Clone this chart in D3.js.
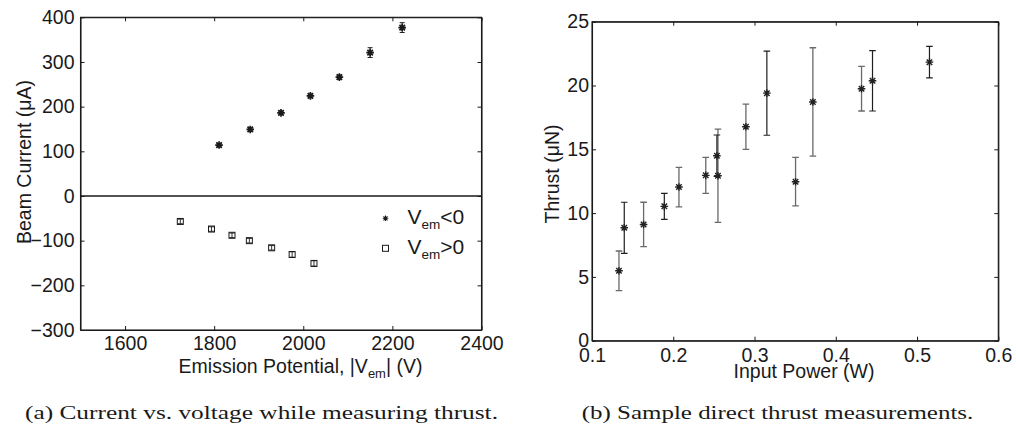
<!DOCTYPE html>
<html>
<head>
<meta charset="utf-8">
<script src="https://cdn.jsdelivr.net/npm/d3@7"></script>
<style>
  body { margin: 0; background: #fff; }
  svg text { font-family: "Liberation Sans", Arial, sans-serif; fill: #1a1a1a; }
  .axis path, .axis line { stroke: #1a1a1a; }
</style>
</head>
<body>
<svg id="fig" width="1016" height="424"></svg>
<script>
// (a) beam current vs |V_em|
var negV   = [1811, 1881, 1950, 2016, 2081, 2150, 2222];
var negI   = [114, 149, 186, 224, 266, 321, 377];
var negErr = [4, 4, 4, 4, 5, 11, 11];
var posV   = [1724, 1794, 1840, 1879, 1929, 1975, 2024];
var posI   = [-57, -74, -88, -100, -116, -131, -151];
var posErr = [5, 5, 5, 5, 5, 6, 6];
var xTicksA = [1600, 1800, 2000, 2200, 2400];
var yTicksA = [-300, -200, -100, 0, 100, 200, 300, 400];

// (b) thrust vs input power; two groups of bars (dark / grey)
var powerDark  = [0.1397, 0.189, 0.2537, 0.3152, 0.4452, 0.5153];
var thrustDark = [8.85, 10.53, 14.5, 19.4, 20.37, 21.83];
var errDark    = [2.0, 1.02, 1.62, 3.3, 2.37, 1.24];
var powerGrey  = [0.1332, 0.1635, 0.207, 0.240, 0.255, 0.2894, 0.3505, 0.3718, 0.4317];
var thrustGrey = [5.48, 9.11, 12.04, 12.96, 12.93, 16.77, 12.46, 18.71, 19.75];
var errGrey    = [1.55, 1.74, 1.55, 1.41, 3.65, 1.77, 1.9, 4.25, 1.75];
var xTicksB = [0.1, 0.2, 0.3, 0.4, 0.5, 0.6];
var yTicksB = [0, 5, 10, 15, 20, 25];

var svg = d3.select("#fig");
var fs = 19.5;
var sans = "'Liberation Sans', Arial, sans-serif";

// matlab style box: ticks inside on all four sides, labels bottom/left
function box(g, x, y, xt, yt, w, h, xpad, ypad, fmtX) {
  g.append("g").attr("class", "axis").attr("transform", "translate(0," + h + ")")
    .call(d3.axisBottom(x).tickValues(xt).tickSizeInner(-4).tickSizeOuter(0).tickPadding(xpad).tickFormat(fmtX));
  g.append("g").attr("class", "axis")
    .call(d3.axisTop(x).tickValues(xt).tickSizeInner(-4).tickSizeOuter(0).tickFormat(""));
  g.append("g").attr("class", "axis")
    .call(d3.axisLeft(y).tickValues(yt).tickSizeInner(-4).tickSizeOuter(0).tickPadding(ypad)
      .tickFormat(function (d) { return d < 0 ? "\u2212" + Math.abs(d) : d; }));
  g.append("g").attr("class", "axis").attr("transform", "translate(" + w + ",0)")
    .call(d3.axisRight(y).tickValues(yt).tickSizeInner(-4).tickSizeOuter(0).tickFormat(""));
  g.selectAll("g.axis").attr("font-size", fs).attr("font-family", sans);
  g.selectAll("g.axis text").attr("font-size", fs).style("font-size", fs + "px").attr("fill", "#1a1a1a");
  g.selectAll(".axis .domain").attr("stroke-width", 1.1);
  g.append("rect").attr("width", w).attr("height", h)
    .attr("fill", "none").attr("stroke", "#1a1a1a").attr("stroke-width", 1.1);
}

function star(r) {
  var k = r * 0.72;
  return "M" + -r + ",0L" + r + ",0M0," + -r + "L0," + r +
    "M" + -k + "," + -k + "L" + k + "," + k + "M" + -k + "," + k + "L" + k + "," + -k;
}

function errbars(g, xs, ys, es, x, y, cap, color, sw) {
  var d = d3.range(xs.length);
  var eb = g.append("g").attr("stroke", color).attr("stroke-width", sw).attr("fill", "none");
  eb.selectAll("path").data(d).join("path")
    .attr("d", function (i) {
      var cx = x(xs[i]), t = y(ys[i] + es[i]), b = y(ys[i] - es[i]);
      return "M" + cx + "," + t + "L" + cx + "," + b +
        "M" + (cx - cap) + "," + t + "L" + (cx + cap) + "," + t +
        "M" + (cx - cap) + "," + b + "L" + (cx + cap) + "," + b;
    });
}

// ---------- panel (a) ----------
var mA = { left: 80.5, top: 17.3 }, wA = 401, hA = 312.7;
var gA = svg.append("g").attr("transform", "translate(" + mA.left + "," + mA.top + ")");
var xA = d3.scaleLinear().domain([1500, 2400]).range([0, wA]);
var yA = d3.scaleLinear().domain([-300, 400]).range([hA, 0]);
box(gA, xA, yA, xTicksA, yTicksA, wA, hA, 6, 6, d3.format("d"));

gA.append("line").attr("x1", 0).attr("x2", wA).attr("y1", yA(0)).attr("y2", yA(0))
  .attr("stroke", "#1a1a1a").attr("stroke-width", 1.3);

errbars(gA, negV, negI, negErr, xA, yA, 2.5, "#222", 1);
errbars(gA, posV, posI, posErr, xA, yA, 2.5, "#333", 1);

gA.append("g").selectAll("path").data(d3.range(negV.length)).join("path")
  .attr("transform", function (i) { return "translate(" + xA(negV[i]) + "," + yA(negI[i]) + ")"; })
  .attr("d", star(3.8)).attr("stroke", "#1a1a1a").attr("stroke-width", 1.7).attr("fill", "none");
gA.append("g").selectAll("rect").data(d3.range(posV.length)).join("rect")
  .attr("x", function (i) { return xA(posV[i]) - 3; })
  .attr("y", function (i) { return yA(posI[i]) - 3; })
  .attr("width", 6).attr("height", 6)
  .attr("fill", "none").attr("stroke", "#1a1a1a").attr("stroke-width", 1);

// legend
var lg = gA.append("g").attr("transform", "translate(305,201)");
lg.append("path").attr("d", star(2.8)).attr("stroke", "#1a1a1a").attr("stroke-width", 1.1).attr("fill", "none");
lg.append("rect").attr("x", -3).attr("y", 27).attr("width", 6).attr("height", 6)
  .attr("fill", "none").attr("stroke", "#1a1a1a").attr("stroke-width", 1);
var lt1 = lg.append("text").attr("x", 22).attr("y", 6).style("font-size", "21px");
lt1.append("tspan").text("V");
lt1.append("tspan").attr("dy", 5).style("font-size", "13.5px").text("em");
lt1.append("tspan").attr("dy", -5).text("<0");
var lt2 = lg.append("text").attr("x", 22).attr("y", 36).style("font-size", "21px");
lt2.append("tspan").text("V");
lt2.append("tspan").attr("dy", 5).style("font-size", "13.5px").text("em");
lt2.append("tspan").attr("dy", -5).text(">0");

var xlA = svg.append("text").attr("x", 300.5).attr("y", 373).attr("text-anchor", "middle").style("font-size", fs + "px");
xlA.append("tspan").text("Emission Potential, |V");
xlA.append("tspan").attr("dy", 5).style("font-size", "13px").text("em");
xlA.append("tspan").attr("dy", -5).text("| (V)");
svg.append("text").attr("transform", "translate(31,162) rotate(-90)").attr("text-anchor", "middle")
  .style("font-size", fs + "px").text("Beam Current (\u03bcA)");

// ---------- panel (b) ----------
var mB = { left: 592, top: 21.7 }, wB = 406.3, hB = 319;
var gB = svg.append("g").attr("transform", "translate(" + mB.left + "," + mB.top + ")");
var xB = d3.scaleLinear().domain([0.1, 0.6]).range([0, wB]);
var yB = d3.scaleLinear().domain([0, 25]).range([hB, 0]);
box(gB, xB, yB, xTicksB, yTicksB, wB, hB, 7, 3, d3.format(".1f"));

errbars(gB, powerGrey, thrustGrey, errGrey, xB, yB, 3.3, "#6a6a6a", 1.3);
errbars(gB, powerDark, thrustDark, errDark, xB, yB, 3.3, "#1f1f1f", 1.2);

var allP = powerGrey.concat(powerDark), allT = thrustGrey.concat(thrustDark);
gB.append("g").selectAll("path").data(d3.range(allP.length)).join("path")
  .attr("transform", function (i) { return "translate(" + xB(allP[i]) + "," + yB(allT[i]) + ")"; })
  .attr("d", star(3.8)).attr("stroke", "#222").attr("stroke-width", 1.4).attr("fill", "none");

svg.append("text").attr("x", 804).attr("y", 378).attr("text-anchor", "middle")
  .style("font-size", fs + "px").text("Input Power (W)");
svg.append("text").attr("transform", "translate(559,174) rotate(-90)").attr("text-anchor", "middle")
  .style("font-size", fs + "px").text("Thrust (\u03bcN)");

// captions
svg.append("text").attr("x", 25).attr("y", 419)
  .attr("textLength", 473).attr("lengthAdjust", "spacingAndGlyphs")
  .style("font-size", "19px").style("font-family", "'Liberation Serif', serif")
  .text("(a) Current vs. voltage while measuring thrust.");
svg.append("text").attr("x", 581.7).attr("y", 419)
  .attr("textLength", 391.6).attr("lengthAdjust", "spacingAndGlyphs")
  .style("font-size", "19px").style("font-family", "'Liberation Serif', serif")
  .text("(b) Sample direct thrust measurements.");
</script>
</body>
</html>
